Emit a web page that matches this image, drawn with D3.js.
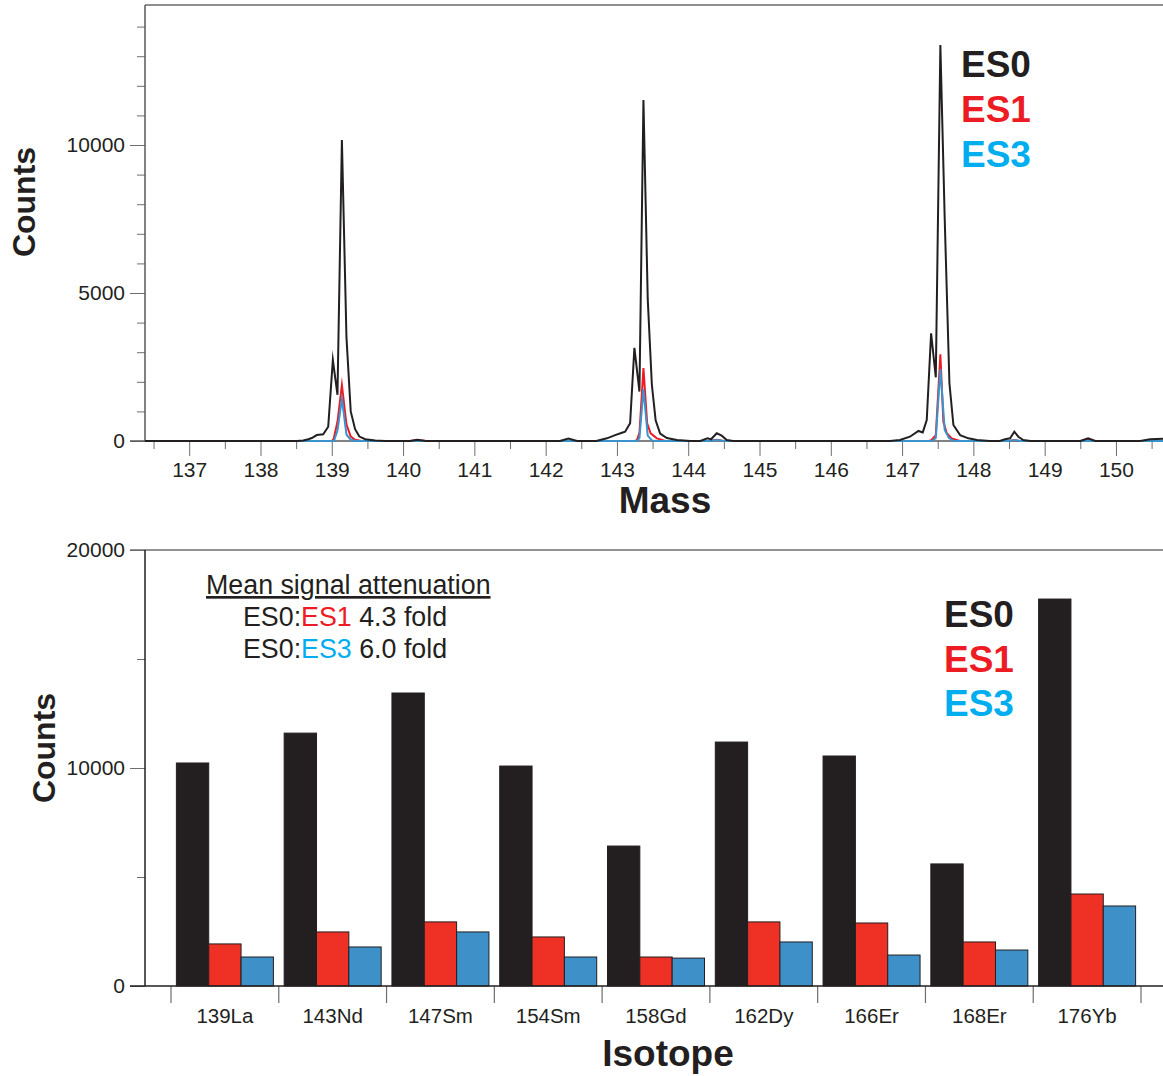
<!DOCTYPE html>
<html lang="en">
<head>
  <meta charset="UTF-8" />
  <title>Mass spectra and isotope counts</title>
  <script src="https://d3js.org/d3.v7.min.js"></script>
  <style>
    html, body {
      margin: 0;
      padding: 0;
      background: #fff;
    }
    svg {
      display: block;
      font-family: "Liberation Sans", Arial, Helvetica, sans-serif;
    }
    .tick text {
      fill: #231f20;
    }
  </style>
</head>
<body>
  <svg id="chart" width="1163" height="1076"></svg>

  <script>
    // ---------------------------------------------------------
    // Data
    // ---------------------------------------------------------

    // spectrum traces: [mass, counts]
    const spectrumES0 = [
      [136.38, 0], [138.51, 0], [138.60, 20], [138.67, 60], [138.72, 100], [138.79, 200],
      [138.88, 226], [138.95, 480], [139.015, 2740], [139.08, 1560], [139.142, 10170],
      [139.206, 3500], [139.266, 1000], [139.327, 400], [139.387, 150], [139.47, 60],
      [139.61, 20], [139.75, 0], [140.1, 0], [140.2, 40], [140.32, 0],
      [142.2, 0], [142.32, 80], [142.44, 0],
      [142.71, 0], [142.86, 90], [142.975, 200], [143.07, 280], [143.115, 315], [143.185, 600],
      [143.245, 3150], [143.316, 1670], [143.372, 11520], [143.432, 4800], [143.49, 1900],
      [143.543, 700], [143.606, 250], [143.70, 100], [143.84, 34], [144.03, 0],
      [144.17, 0], [144.27, 90], [144.32, 57], [144.40, 260], [144.47, 180], [144.54, 34], [144.63, 0],
      [146.83, 0], [146.97, 34], [147.11, 145], [147.23, 340], [147.29, 290], [147.346, 710],
      [147.407, 3640], [147.473, 2150], [147.537, 13380], [147.598, 7500], [147.664, 1950],
      [147.72, 540], [147.814, 200], [147.93, 90], [148.05, 34], [148.23, 0],
      [148.37, 0], [148.445, 57], [148.515, 90], [148.575, 315], [148.631, 145], [148.70, 34], [148.80, 0],
      [149.50, 0], [149.61, 90], [149.71, 0],
      [150.34, 0], [150.48, 60], [150.66, 80]
    ];

    const spectrumES1 = [
      [136.38, 0], [139.00, 0], [139.025, 60], [139.08, 650], [139.142, 1890], [139.206, 560],
      [139.266, 150], [139.327, 40], [139.42, 0], [140.1, 0], [140.2, 30], [140.32, 0],
      [143.25, 0], [143.28, 30], [143.316, 280], [143.372, 2460], [143.424, 600], [143.473, 260],
      [143.56, 90], [143.68, 0], [144.3, 0], [144.40, 40], [144.5, 0],
      [147.38, 0], [147.41, 30], [147.473, 200], [147.537, 2930], [147.579, 650], [147.627, 260],
      [147.697, 90], [147.81, 0], [148.5, 0], [148.575, 30], [148.65, 0],
      [149.52, 0], [149.61, 60], [149.70, 0], [150.66, 0]
    ];

    const spectrumES3 = [
      [136.38, 0], [139.03, 0], [139.08, 350], [139.142, 1420], [139.206, 220], [139.266, 40],
      [139.34, 0], [143.28, 0], [143.316, 100], [143.372, 1750], [143.432, 180], [143.49, 20],
      [143.56, 0], [144.3, 0], [144.4, 30], [144.5, 0],
      [147.42, 0], [147.473, 100], [147.537, 2430], [147.598, 370], [147.658, 100], [147.73, 0],
      [148.5, 0], [148.575, 30], [148.65, 0], [150.66, 0]
    ];

    // bar chart
    const isotopes = ["139La", "143Nd", "147Sm", "154Sm", "158Gd", "162Dy", "166Er", "168Er", "176Yb"];
    const barES0 = [10230, 11600, 13440, 10090, 6420, 11190, 10550, 5600, 17750];
    const barES1 = [1930, 2480, 2940, 2250, 1330, 2940, 2890, 2020, 4220];
    const barES3 = [1330, 1790, 2480, 1330, 1280, 2020, 1420, 1650, 3670];

    const seriesNames = ["ES0", "ES1", "ES3"];
    const massTicks = [137, 138, 139, 140, 141, 142, 143, 144, 145, 146, 147, 148, 149, 150];

    // colours
    const lineColors = { ES0: "#231f20", ES1: "#ed1c24", ES3: "#3a93cc" };
    const barColors = { ES0: "#231f20", ES1: "#ee3124", ES3: "#3d90c8" };
    const labelColors = { ES0: "#231f20", ES1: "#ed1c24", ES3: "#00aeef" };

    const svg = d3.select("#chart");
    const axisGray = "#6d6e71";
    const ink = "#231f20";
    const fmt = d3.format("d");
    const tickFont = 21;

    // ---------------------------------------------------------
    // Top panel: spectrum
    // ---------------------------------------------------------
    const topBox = { left: 145, right: 1163, top: 5, bottom: 441 };

    const xMass = d3.scaleLinear().domain([136.38, 150.66]).range([topBox.left, topBox.right]);
    const yTop = d3.scaleLinear().domain([0, 14730]).range([topBox.bottom, topBox.top]);

    const gTop = svg.append("g");

    // minor y ticks
    gTop.append("g")
      .attr("transform", `translate(${topBox.left},0)`)
      .call(d3.axisLeft(yTop).tickValues(d3.range(1000, 14001, 1000)).tickSize(8).tickSizeOuter(0).tickFormat(""))
      .call(g => g.select(".domain").remove())
      .call(g => g.selectAll("line").attr("stroke", axisGray));

    // major y ticks
    gTop.append("g")
      .attr("transform", `translate(${topBox.left},0)`)
      .call(d3.axisLeft(yTop).tickValues([0, 5000, 10000]).tickSize(15).tickSizeOuter(0).tickPadding(5).tickFormat(fmt))
      .call(g => g.select(".domain").remove())
      .call(g => g.selectAll("line").attr("stroke", axisGray))
      .call(g => g.selectAll("text").attr("font-size", tickFont).attr("font-family", "Liberation Sans, Arial, sans-serif"));

    // minor x ticks (half masses)
    gTop.append("g")
      .attr("transform", `translate(0,${topBox.bottom})`)
      .call(d3.axisBottom(xMass).tickValues(d3.range(136.5, 150.6, 1)).tickSize(8).tickSizeOuter(0).tickFormat(""))
      .call(g => g.select(".domain").remove())
      .call(g => g.selectAll("line").attr("stroke", axisGray));

    // major x ticks
    gTop.append("g")
      .attr("transform", `translate(0,${topBox.bottom})`)
      .call(d3.axisBottom(xMass).tickValues(massTicks).tickSize(15).tickSizeOuter(0).tickPadding(6).tickFormat(fmt))
      .call(g => g.select(".domain").remove())
      .call(g => g.selectAll("line").attr("stroke", axisGray))
      .call(g => g.selectAll("text").attr("font-size", tickFont).attr("font-family", "Liberation Sans, Arial, sans-serif"));

    // frame lines
    gTop.append("line")
      .attr("x1", topBox.left).attr("x2", topBox.right).attr("y1", topBox.top).attr("y2", topBox.top)
      .attr("stroke", ink).attr("stroke-width", 1.2);
    gTop.append("line")
      .attr("x1", topBox.left).attr("x2", topBox.left).attr("y1", topBox.top).attr("y2", topBox.bottom)
      .attr("stroke", "#58595b").attr("stroke-width", 1.5);
    gTop.append("line")
      .attr("x1", 130).attr("x2", topBox.right).attr("y1", topBox.bottom).attr("y2", topBox.bottom)
      .attr("stroke", "#58595b").attr("stroke-width", 1.5);

    // clip for traces (a little slack below the zero line)
    svg.append("defs").append("clipPath").attr("id", "topClip")
      .append("rect")
      .attr("x", topBox.left).attr("y", topBox.top)
      .attr("width", topBox.right - topBox.left).attr("height", topBox.bottom - topBox.top + 1);

    const line = d3.line()
      .x(d => xMass(d[0]))
      .y(d => yTop(d[1]));

    // coloured traces first, black on top
    const traces = [
      { name: "ES1", data: spectrumES1 },
      { name: "ES3", data: spectrumES3 },
      { name: "ES0", data: spectrumES0 }
    ];

    gTop.append("g")
      .attr("clip-path", "url(#topClip)")
      .selectAll("path")
      .data(traces)
      .join("path")
      .attr("d", d => line(d.data))
      .attr("fill", "none")
      .attr("stroke", d => lineColors[d.name])
      .attr("stroke-width", 2)
      .attr("stroke-linejoin", "miter")
      .attr("stroke-miterlimit", 10);

    // axis titles
    gTop.append("text")
      .attr("x", 665).attr("y", 513)
      .attr("text-anchor", "middle")
      .attr("font-size", 37).attr("font-weight", "bold").attr("fill", ink)
      .text("Mass");

    gTop.append("text")
      .attr("transform", "translate(35,202) rotate(-90)")
      .attr("text-anchor", "middle")
      .attr("font-size", 32).attr("font-weight", "bold").attr("fill", ink)
      .text("Counts");

    // legend
    gTop.selectAll(".legTop")
      .data(seriesNames)
      .join("text")
      .attr("class", "legTop")
      .attr("x", 961)
      .attr("y", (d, i) => 77 + i * 45)
      .attr("font-size", 37).attr("font-weight", "bold")
      .attr("fill", d => labelColors[d])
      .text(d => d);

    // ---------------------------------------------------------
    // Bottom panel: grouped bars
    // ---------------------------------------------------------
    const botBox = { left: 145, right: 1163, top: 550, bottom: 986 };

    const xIso = d3.scaleBand().domain(isotopes).range([171, 1141]).paddingInner(0).paddingOuter(0);
    const xSub = d3.scaleBand().domain(seriesNames)
      .range([xIso.bandwidth() * 0.05, xIso.bandwidth() * 0.95]);
    const yBot = d3.scaleLinear().domain([0, 20000]).range([botBox.bottom, botBox.top]);

    const gBot = svg.append("g");

    // y ticks
    gBot.append("g")
      .attr("transform", `translate(${botBox.left},0)`)
      .call(d3.axisLeft(yBot).tickValues([5000, 15000]).tickSize(8).tickSizeOuter(0).tickFormat(""))
      .call(g => g.select(".domain").remove())
      .call(g => g.selectAll("line").attr("stroke", axisGray));

    gBot.append("g")
      .attr("transform", `translate(${botBox.left},0)`)
      .call(d3.axisLeft(yBot).tickValues([0, 10000, 20000]).tickSize(15).tickSizeOuter(0).tickPadding(5).tickFormat(fmt))
      .call(g => g.select(".domain").remove())
      .call(g => g.selectAll("line").attr("stroke", axisGray))
      .call(g => g.selectAll("text").attr("font-size", tickFont).attr("font-family", "Liberation Sans, Arial, sans-serif"));

    // x ticks at band boundaries
    const boundaries = isotopes.map(d => xIso(d)).concat([xIso(isotopes[isotopes.length - 1]) + xIso.bandwidth()]);
    gBot.append("g")
      .selectAll("line")
      .data(boundaries)
      .join("line")
      .attr("x1", d => d).attr("x2", d => d)
      .attr("y1", botBox.bottom).attr("y2", botBox.bottom + 17)
      .attr("stroke", axisGray).attr("stroke-width", 1.2);

    // category labels
    gBot.append("g")
      .attr("transform", `translate(0,${botBox.bottom})`)
      .call(d3.axisBottom(xIso).tickSize(0).tickPadding(22))
      .call(g => g.select(".domain").remove())
      .call(g => g.selectAll("text").attr("font-size", 20.5).attr("font-family", "Liberation Sans, Arial, sans-serif"));

    // top frame line
    gBot.append("line")
      .attr("x1", 130).attr("x2", botBox.right).attr("y1", botBox.top).attr("y2", botBox.top)
      .attr("stroke", axisGray).attr("stroke-width", 1.5);

    // bars
    const barRows = isotopes.map((iso, i) => ({
      iso,
      values: [
        { name: "ES0", value: barES0[i] },
        { name: "ES1", value: barES1[i] },
        { name: "ES3", value: barES3[i] }
      ]
    }));

    gBot.append("g")
      .selectAll("g")
      .data(barRows)
      .join("g")
      .attr("transform", d => `translate(${xIso(d.iso)},0)`)
      .selectAll("rect")
      .data(d => d.values)
      .join("rect")
      .attr("x", d => xSub(d.name))
      .attr("y", d => yBot(d.value))
      .attr("width", xSub.bandwidth())
      .attr("height", d => yBot(0) - yBot(d.value))
      .attr("fill", d => barColors[d.name])
      .attr("stroke", ink)
      .attr("stroke-width", 1);

    // axis lines
    gBot.append("line")
      .attr("x1", botBox.left).attr("x2", botBox.left).attr("y1", botBox.top).attr("y2", botBox.bottom)
      .attr("stroke", ink).attr("stroke-width", 1.5);
    gBot.append("line")
      .attr("x1", 130).attr("x2", botBox.right).attr("y1", botBox.bottom).attr("y2", botBox.bottom)
      .attr("stroke", ink).attr("stroke-width", 1.5);

    // axis titles
    gBot.append("text")
      .attr("x", 668).attr("y", 1066)
      .attr("text-anchor", "middle")
      .attr("font-size", 37).attr("font-weight", "bold").attr("fill", ink)
      .text("Isotope");

    gBot.append("text")
      .attr("transform", "translate(55,748) rotate(-90)")
      .attr("text-anchor", "middle")
      .attr("font-size", 32).attr("font-weight", "bold").attr("fill", ink)
      .text("Counts");

    // legend
    gBot.selectAll(".legBot")
      .data(seriesNames)
      .join("text")
      .attr("class", "legBot")
      .attr("x", 944)
      .attr("y", (d, i) => 627 + i * 44.5)
      .attr("font-size", 37).attr("font-weight", "bold")
      .attr("fill", d => labelColors[d])
      .text(d => d);

    // attenuation note
    const note = gBot.append("g").attr("font-size", 26.8).attr("fill", ink);
    note.append("text")
      .attr("x", 206).attr("y", 594)
      .attr("text-decoration", "underline")
      .text("Mean signal attenuation");

    const ratios = [
      { name: "ES1", fold: "4.3" },
      { name: "ES3", fold: "6.0" }
    ];
    ratios.forEach((r, i) => {
      const t = note.append("text").attr("x", 243).attr("y", 626 + i * 32);
      t.append("tspan").text("ES0:");
      t.append("tspan").attr("fill", labelColors[r.name]).text(r.name);
      t.append("tspan").text(` ${r.fold} fold`);
    });
  </script>
</body>
</html>
